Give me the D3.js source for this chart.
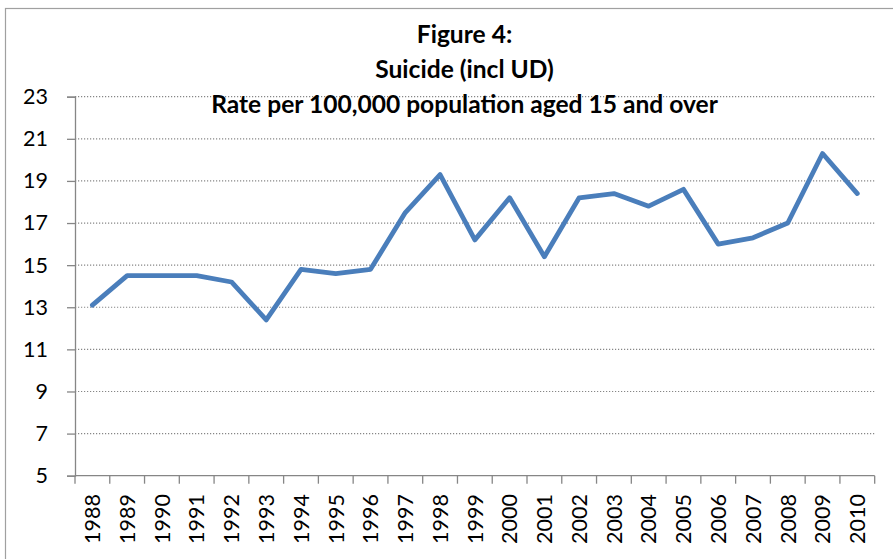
<!DOCTYPE html>
<html>
<head>
<meta charset="utf-8">
<script src="https://cdn.jsdelivr.net/npm/d3@7/dist/d3.min.js"></script>
<style>
  html, body { margin: 0; padding: 0; background: #fff; }
  svg { display: block; }
</style>
</head>
<body>
<svg id="chart" width="893" height="559"></svg>
<script>
const years = ["1988","1989","1990","1991","1992","1993","1994","1995","1996","1997","1998","1999","2000","2001","2002","2003","2004","2005","2006","2007","2008","2009","2010"];
const rates = [13.1,14.5,14.5,14.5,14.2,12.4,14.8,14.6,14.8,17.5,19.3,16.2,18.2,15.4,18.2,18.4,17.8,18.6,16.0,16.3,17.0,20.3,18.4];
const yTicks = [5,7,9,11,13,15,17,19,21,23];
const titleLines = ["Figure 4:", "Suicide (incl UD)", "Rate per 100,000 population aged 15 and over"];

(function () {
const svg = d3.select("#chart");
const W = 893, H = 559;
const pLeft = 75, pRight = 874.7, pTop = 96.7, pBottom = 475.7;
const font = "Lato, 'Open Sans', sans-serif";
const gray = "#868686";

svg.append("rect").attr("width", W).attr("height", H).attr("fill", "#fff");
// outer chart border (extends past window on right/bottom)
svg.append("rect").attr("x", 5.5).attr("y", 8.5).attr("width", 900).attr("height", 600)
  .attr("fill", "none").attr("stroke", "#a0a0a0").attr("stroke-width", 1.2);

const x = d3.scaleBand().domain(years).range([pLeft, pRight]).padding(0);
const y = d3.scaleLinear().domain([5, 23]).range([pBottom, pTop]);

// gridlines
svg.append("g").selectAll("line").data(yTicks.filter(v => v !== 5)).join("line")
  .attr("x1", pLeft).attr("x2", pRight)
  .attr("y1", d => y(d)).attr("y2", d => y(d))
  .attr("stroke", gray).attr("stroke-width", 1.2).attr("stroke-dasharray", "1.2,1.8");

// title
const tg = svg.append("g");
const tl = tg.selectAll("text").data(titleLines).join("text")
  .attr("x", 464.5).attr("y", (d, i) => 43 + i * 35)
  .attr("text-anchor", "middle")
  .attr("font-family", font).attr("font-weight", "bold").attr("font-size", 22)
  .attr("fill", "#000").text(d => d);
const lastNode = tl.nodes()[2];
const w = lastNode.getComputedTextLength();
const fs = 22 * 507 / w;
tl.attr("font-size", fs);

// y axis
const yAxis = d3.axisLeft(y).tickValues(yTicks).tickSize(8).tickPadding(19).tickFormat(d3.format("d"));
const yg = svg.append("g").attr("transform", `translate(${pLeft},0)`).call(yAxis);
yg.select(".domain").attr("stroke", gray).attr("stroke-width", 1.3);
yg.selectAll(".tick line").attr("stroke", gray).attr("stroke-width", 1.3);
yg.selectAll(".tick text").attr("font-family", font).attr("font-size", 21.5).attr("fill", "#000");

// x axis: baseline + ticks at category boundaries
const xg = svg.append("g");
xg.append("line").attr("x1", pLeft).attr("x2", pRight).attr("y1", pBottom).attr("y2", pBottom)
  .attr("stroke", gray).attr("stroke-width", 1.3);
const bounds = years.map(d => x(d)).concat([x.range()[1]]);
xg.selectAll("line.t").data(bounds).join("line").attr("class", "t")
  .attr("x1", d => d).attr("x2", d => d).attr("y1", pBottom).attr("y2", pBottom + 8)
  .attr("stroke", gray).attr("stroke-width", 1.3);
xg.selectAll("text").data(years).join("text")
  .attr("transform", d => `translate(${x(d) + x.bandwidth() / 2},494) rotate(-90)`)
  .attr("text-anchor", "end").attr("dy", "0.36em")
  .attr("font-family", font).attr("font-size", 21.5).attr("fill", "#000")
  .text(d => d);

// line
const line = d3.line()
  .x((d, i) => x(years[i]) + x.bandwidth() / 2)
  .y(d => y(d));
svg.append("path").datum(rates).attr("d", line)
  .attr("fill", "none").attr("stroke", "#4A7EBB").attr("stroke-width", 4.8)
  .attr("stroke-linejoin", "round").attr("stroke-linecap", "round");
})();
</script>
</body>
</html>
